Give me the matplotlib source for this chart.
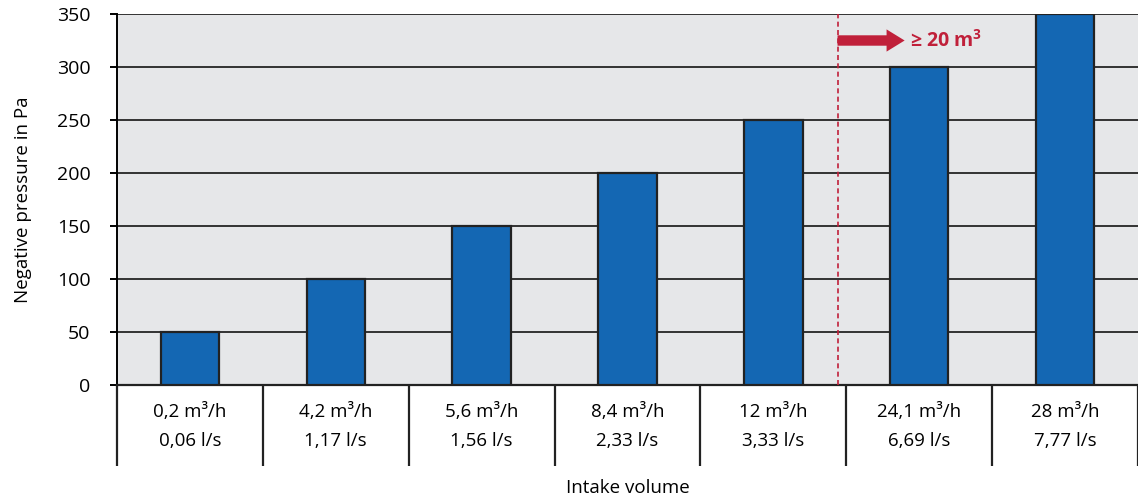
import matplotlib
matplotlib.use('Agg')
import matplotlib.pyplot as plt
import numpy as np

plt.rcParams['font.family'] = ['Open Sans', 'DejaVu Sans']
plt.rcParams['mathtext.fontset'] = 'custom'
plt.rcParams['mathtext.rm'] = 'Open Sans'
plt.rcParams['mathtext.bf'] = 'Open Sans:bold'

# data
flow_m3h = ['0,2', '4,2', '5,6', '8,4', '12', '24,1', '28']
flow_ls = ['0,06', '1,17', '1,56', '2,33', '3,33', '6,69', '7,77']
pressure = [50, 100, 150, 200, 250, 300, 350]
threshold_pos = 4.44   # dashed line between 12 and 24,1 m3/h
threshold_text = r'≥ 20 m$^\mathbf{3}$'

labels = [a + ' m³/h\n' + b + ' l/s' for a, b in zip(flow_m3h, flow_ls)]
x = np.arange(len(pressure))

fig = plt.figure(figsize=(11.38, 4.97), dpi=100)
ax = fig.add_axes([117/1138, 112/497, 1 - 117/1138, 371/497])
ax.set_facecolor('#e6e7e9')

ax.bar(x, pressure, width=0.40, color='#1467b3', edgecolor='#222222',
       linewidth=1.6, zorder=3)

ax.set_xlim(-0.5, len(x) - 0.5)
ax.set_ylim(0, 350)
ax.set_yticks(np.arange(0, 351, 50))
ax.yaxis.grid(True, color='#333333', linewidth=1.4, zorder=1)
ax.set_axisbelow(True)

for s in ['top', 'right']:
    ax.spines[s].set_visible(False)
ax.spines['left'].set_linewidth(1.4)
ax.spines['bottom'].set_linewidth(1.6)
ax.spines['bottom'].set_color('#222222')

ax.tick_params(axis='y', length=5, width=1.4, labelsize=14, pad=14)
ax.set_xticks(x)
ax.set_xticklabels(labels, fontsize=13.5, linespacing=1.75)
ax.tick_params(axis='x', which='major', length=0, pad=13)
ax.set_xticks(np.arange(-0.5, len(x)), minor=True)
ax.tick_params(axis='x', which='minor', length=58, width=1.6, color='#222222',
               direction='out')

ax.set_ylabel('Negative pressure in Pa', fontsize=13.5, labelpad=18)
ax.set_xlabel('Intake volume', fontsize=13.5, labelpad=6)

# threshold marker
ax.axvline(threshold_pos, color='#c0203a', linestyle=(0, (3, 2)),
           linewidth=1.2, zorder=4)
ax.annotate('', xy=(threshold_pos + 0.46, 325), xytext=(threshold_pos, 325),
            arrowprops=dict(arrowstyle='simple,head_length=1.3,head_width=1.6,tail_width=0.75',
                            color='#c0203a', lw=0, shrinkA=0, shrinkB=0), zorder=5)
ax.text(threshold_pos + 0.5, 325, threshold_text, color='#c0203a',
        fontsize=14, fontweight='bold', va='center', ha='left', zorder=5)

fig.savefig('out.png', dpi=100)
